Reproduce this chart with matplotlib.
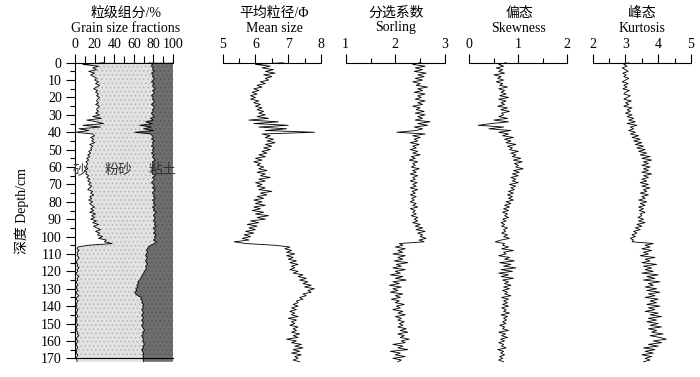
import numpy as np
import matplotlib
matplotlib.use("Agg")
import matplotlib.pyplot as plt
from matplotlib.ticker import MultipleLocator

plt.rcParams['font.family'] = ['Liberation Serif', 'Noto Sans CJK SC', 'DejaVu Sans']
plt.rcParams['font.size'] = 10
plt.rcParams['hatch.linewidth'] = 0.6

# depth grid, cm
depth = np.arange(0, 173)

# grain size fractions, cumulative %
sand = [30, 8, 24, 18, 22, 14, 20, 16, 19, 22,
        20, 24, 21, 25, 22, 19, 23, 21, 24, 22,
        25, 23, 22, 24, 21, 25, 23, 22, 24, 21,
        25, 18, 27, 12, 22, 29, 8, 26, 4, 14,
        1, 18, 20, 16, 19, 17, 20, 15, 18, 16,
        17, 14, 16, 13, 15, 12, 14, 11, 13, 12,
        11, 13, 10, 12, 11, 14, 12, 15, 13, 16,
        14, 17, 15, 13, 18, 16, 19, 15, 17, 14,
        18, 15, 17, 20, 16, 19, 15, 21, 17, 20,
        16, 22, 18, 24, 19, 22, 26, 21, 25, 23,
        28, 24, 32, 30, 38, 13, 3, 2, 4, 2,
        3, 2, 4, 3, 2, 1, 3, 2, 4, 2,
        3, 1, 2, 4, 2, 3, 1, 2, 3, 1,
        2, 3, 1, 2, 4, 2, 1, 3, 2, 1,
        2, 1, 3, 2, 1, 2, 3, 1, 2, 1,
        2, 3, 1, 2, 1, 3, 2, 4, 2, 1,
        3, 2, 1, 2, 3, 1, 2, 1, 3, 2,
        1, 2, 2]
sand_silt = [76, 79, 78, 80, 79, 81, 78, 80, 79, 81,
             80, 78, 81, 79, 80, 82, 79, 81, 80, 78,
             80, 79, 81, 80, 78, 80, 81, 79, 80, 78,
             79, 81, 77, 80, 72, 79, 66, 78, 70, 80,
             61, 77, 79, 80, 78, 81, 79, 80, 78, 81,
             79, 80, 78, 81, 79, 80, 82, 79, 81, 80,
             79, 81, 80, 78, 80, 82, 79, 81, 80, 78,
             80, 81, 79, 82, 80, 79, 81, 80, 82, 79,
             81, 80, 82, 79, 81, 80, 83, 81, 80, 82,
             81, 80, 82, 81, 83, 80, 81, 82, 80, 83,
             81, 82, 80, 83, 81, 77, 75, 74, 73, 74,
             73, 72, 74, 73, 72, 73, 74, 72, 73, 72,
             71, 70, 69, 68, 67, 66, 64, 65, 63, 64,
             62, 63, 61, 62, 64, 68, 67, 69, 68, 70,
             69, 70, 68, 69, 70, 68, 69, 70, 68, 69,
             70, 68, 69, 70, 71, 69, 70, 68, 69, 70,
             69, 70, 71, 69, 70, 68, 69, 70, 69, 70,
             69, 70, 70]

mean_size = [6.85, 6.0, 6.45, 6.2, 6.55, 6.3, 6.6, 6.25, 6.5, 6.3,
             6.4, 6.15, 6.3, 6.05, 6.2, 5.95, 6.1, 5.9, 6.05, 5.85,
             6.0, 5.85, 6.1, 5.95, 6.15, 6.0, 6.2, 6.05, 6.25, 6.1,
             6.3, 6.05, 6.4, 5.8, 6.7, 5.95, 7.0, 6.1, 6.95, 6.3,
             7.8, 6.2, 6.45, 6.3, 6.55, 6.35, 6.6, 6.3, 6.5, 6.25,
             6.45, 6.2, 6.35, 6.1, 6.3, 6.0, 6.2, 5.95, 6.15, 6.05,
             6.25, 6.1, 6.35, 6.05, 6.3, 6.15, 6.45, 6.1, 6.3, 6.0,
             6.2, 6.05, 6.3, 6.1, 6.5, 6.15, 6.35, 6.05, 6.25, 5.95,
             6.2, 6.0, 6.3, 5.95, 6.15, 5.9, 6.25, 6.0, 6.4, 6.05,
             6.3, 5.85, 6.1, 5.75, 6.05, 5.8, 6.0, 5.7, 5.95, 5.65,
             5.85, 5.6, 5.8, 5.35, 5.7, 6.6, 7.05, 6.9, 7.1, 6.95,
             7.2, 6.95, 7.15, 7.0, 7.25, 7.05, 7.3, 7.1, 7.2, 7.05,
             7.3, 7.15, 7.45, 7.3, 7.55, 7.35, 7.6, 7.45, 7.7, 7.5,
             7.8, 7.6, 7.7, 7.45, 7.55, 7.35, 7.45, 7.25, 7.3, 7.15,
             7.3, 7.1, 7.25, 7.05, 7.2, 7.1, 7.3, 7.0, 7.25, 7.1,
             7.2, 7.05, 7.3, 7.15, 7.25, 7.1, 7.35, 7.15, 7.3, 6.95,
             7.25, 7.1, 7.4, 7.2, 7.45, 7.15, 7.35, 7.1, 7.4, 7.2,
             7.3, 7.15, 7.35]

sorting = [2.5, 2.35, 2.6, 2.4, 2.55, 2.38, 2.62, 2.45, 2.58, 2.4,
           2.55, 2.35, 2.5, 2.42, 2.65, 2.45, 2.55, 2.38, 2.6, 2.45,
           2.52, 2.4, 2.6, 2.45, 2.55, 2.35, 2.5, 2.42, 2.58, 2.4,
           2.6, 2.45, 2.55, 2.4, 2.7, 2.45, 2.65, 2.38, 2.55, 2.42,
           2.03, 2.6, 2.35, 2.5, 2.38, 2.45, 2.3, 2.48, 2.35, 2.42,
           2.3, 2.45, 2.35, 2.5, 2.32, 2.4, 2.28, 2.45, 2.35, 2.4,
           2.32, 2.48, 2.35, 2.42, 2.3, 2.45, 2.35, 2.4, 2.3, 2.44,
           2.35, 2.42, 2.3, 2.45, 2.34, 2.4, 2.3, 2.42, 2.33, 2.38,
           2.3, 2.42, 2.35, 2.45, 2.3, 2.4, 2.35, 2.42, 2.32, 2.45,
           2.38, 2.45, 2.35, 2.5, 2.4, 2.55, 2.42, 2.6, 2.45, 2.55,
           2.5, 2.62, 2.48, 2.58, 2.08, 2.15, 2.0, 2.2, 2.05, 2.15,
           1.95, 2.2, 2.05, 2.15, 1.98, 2.25, 2.02, 2.12, 1.95, 2.2,
           2.0, 2.1, 1.9, 2.15, 2.0, 2.22, 1.95, 2.08, 1.88, 2.12,
           1.95, 2.05, 1.9, 2.15, 2.0, 2.1, 1.92, 2.08, 2.0, 2.18,
           2.02, 2.1, 1.95, 2.15, 2.05, 2.2, 2.0, 2.12, 2.05, 2.18,
           2.08, 2.15, 2.05, 2.22, 2.1, 2.25, 2.05, 2.18, 2.1, 2.28,
           2.12, 2.2, 1.95, 2.15, 2.05, 2.25, 1.9, 2.1, 2.0, 2.2,
           1.95, 2.12, 2.05]

skewness = [0.75, 0.6, 0.7, 0.55, 0.68, 0.6, 0.72, 0.5, 0.65, 0.58,
            0.7, 0.55, 0.68, 0.62, 0.78, 0.6, 0.72, 0.65, 0.75, 0.62,
            0.8, 0.6, 0.75, 0.65, 0.72, 0.58, 0.78, 0.64, 0.82, 0.66,
            0.7, 0.6, 0.78, 0.5, 0.8, 0.45, 0.18, 0.7, 0.4, 0.85,
            0.6, 0.8, 0.68, 0.9, 0.72, 0.85, 0.75, 0.95, 0.78, 0.88,
            0.82, 1.0, 0.85, 0.95, 0.88, 1.05, 0.9, 1.08, 0.92, 1.0,
            0.95, 1.1, 0.9, 1.02, 0.88, 1.0, 0.85, 0.95, 0.88, 1.0,
            0.82, 0.95, 0.85, 0.92, 0.8, 0.9, 0.78, 0.88, 0.8, 0.9,
            0.75, 0.85, 0.72, 0.82, 0.7, 0.8, 0.68, 0.78, 0.72, 0.8,
            0.68, 0.75, 0.65, 0.72, 0.66, 0.78, 0.7, 0.74, 0.66, 0.78,
            0.7, 0.82, 0.65, 0.53, 0.72, 0.68, 0.8, 0.66, 0.9, 0.7,
            0.75, 0.6, 0.82, 0.72, 0.92, 0.62, 0.85, 0.7, 0.95, 0.65,
            0.88, 0.6, 0.8, 0.65, 0.9, 0.68, 0.8, 0.72, 0.85, 0.7,
            0.82, 0.68, 0.78, 0.72, 0.85, 0.66, 0.8, 0.7, 0.78, 0.68,
            0.8, 0.66, 0.75, 0.7, 0.82, 0.65, 0.78, 0.7, 0.76, 0.68,
            0.75, 0.62, 0.72, 0.68, 0.8, 0.6, 0.74, 0.66, 0.78, 0.64,
            0.72, 0.6, 0.7, 0.66, 0.75, 0.58, 0.7, 0.64, 0.72, 0.62,
            0.68, 0.6, 0.7]

kurtosis = [3.1, 2.95, 3.05, 2.9, 3.0, 3.08, 2.92, 3.02, 2.95, 3.1,
            3.0, 2.9, 3.08, 2.95, 3.05, 2.92, 3.12, 3.0, 2.95, 3.15,
            3.05, 2.95, 3.18, 3.0, 3.1, 2.95, 3.2, 3.05, 3.15, 3.0,
            3.2, 3.05, 3.25, 3.1, 3.3, 3.05, 3.35, 3.15, 3.25, 3.1,
            3.3, 3.15, 3.4, 3.2, 3.45, 3.25, 3.5, 3.3, 3.55, 3.35,
            3.6, 3.4, 3.65, 3.45, 3.75, 3.5, 3.8, 3.55, 3.7, 3.5,
            3.75, 3.55, 3.7, 3.5, 3.8, 3.55, 3.7, 3.5, 3.65, 3.45,
            3.7, 3.5, 3.75, 3.55, 3.65, 3.45, 3.7, 3.5, 3.6, 3.4,
            3.65, 3.45, 3.6, 3.4, 3.55, 3.42, 3.6, 3.45, 3.5, 3.38,
            3.55, 3.4, 3.6, 3.35, 3.5, 3.3, 3.45, 3.25, 3.35, 3.2,
            3.3, 3.15, 3.25, 3.2, 3.85, 3.6, 3.75, 3.5, 3.8, 3.55,
            3.7, 3.45, 3.9, 3.6, 3.75, 3.5, 3.95, 3.55, 3.8, 3.6,
            3.85, 3.5, 4.0, 3.65, 3.9, 3.55, 4.05, 3.7, 3.85, 3.6,
            3.95, 3.65, 4.05, 3.7, 3.9, 3.6, 4.0, 3.75, 3.95, 3.65,
            4.05, 3.7, 3.9, 3.6, 4.0, 3.75, 4.1, 3.7, 3.95, 3.65,
            4.0, 3.75, 4.1, 3.7, 3.95, 3.8, 4.15, 3.75, 4.05, 4.25,
            3.85, 4.1, 3.7, 4.0, 3.55, 3.9, 3.6, 3.85, 3.5, 3.8,
            3.6, 3.75, 3.55]

W, H = 700, 377
fig = plt.figure(figsize=(7, 3.77), dpi=100)
y_top, y_bot = 62.7, 358.3
bot = 1 - y_bot / H
hgt = (y_bot - y_top) / H


def px_axes(x0, x1):
    return fig.add_axes([x0 / W, bot, (x1 - x0) / W, hgt])


def top_axis(ax, lo, hi, major, minor):
    ax.set_xlim(lo, hi)
    ax.set_ylim(170, 0)
    ax.xaxis.tick_top()
    ax.xaxis.set_major_locator(MultipleLocator(major))
    ax.xaxis.set_minor_locator(MultipleLocator(minor))
    ax.tick_params(axis='x', which='major', length=6.5, width=0.8, pad=2, labelsize=10)
    ax.tick_params(axis='x', which='minor', length=3.5, width=0.8)
    ax.set_facecolor('none')


# grain size panel
ax0 = px_axes(75, 173)
top_axis(ax0, 0, 100, 20, 10)
ax0.tick_params(axis='x', which='minor', length=5)
ax0.fill_betweenx(depth, 0, sand, facecolor='white', lw=0, clip_on=False)
ax0.fill_betweenx(depth, sand, sand_silt, facecolor='#e2e2e2', hatch='....',
                  edgecolor='#b4b4b4', lw=0, clip_on=False)
ax0.fill_betweenx(depth, sand_silt, 100, facecolor='#6e6e6e', hatch='....',
                  edgecolor='#575757', lw=0, clip_on=False)
ax0.plot(sand, depth, color='k', lw=0.6, clip_on=False)
ax0.plot(sand_silt, depth, color='k', lw=0.6, clip_on=False)
ax0.yaxis.set_major_locator(MultipleLocator(10))
ax0.yaxis.set_minor_locator(MultipleLocator(5))
ax0.tick_params(axis='y', which='major', length=6.5, width=0.8, pad=3, labelsize=10)
ax0.tick_params(axis='y', which='minor', length=3.5, width=0.8)
ax0.spines['right'].set_visible(False)
for s in ['left', 'top', 'bottom']:
    ax0.spines[s].set_linewidth(0.8)
ax0.text(5, 62, '砂', fontsize=10, color='#333333', ha='center', va='center')
ax0.text(44, 62, '粉砂', fontsize=10, color='#333333', ha='center', va='center')
ax0.text(89, 62, '粘土', fontsize=10, color='#333333', ha='center', va='center')

# line panels
panels = [
    (mean_size, 222.7, 321.0, 5, 8, 1, 0.5),
    (sorting, 345.7, 445.0, 1, 3, 1, 0.5),
    (skewness, 469.3, 567.3, 0, 2, 1, 0.5),
    (kurtosis, 592.7, 691.0, 2, 5, 1, 0.5),
]
for vals, x0, x1, lo, hi, mj, mn in panels:
    ax = px_axes(x0, x1)
    top_axis(ax, lo, hi, mj, mn)
    ax.plot(vals, depth, color='k', lw=0.6, clip_on=False)
    for s in ['left', 'right', 'bottom']:
        ax.spines[s].set_visible(False)
    ax.spines['top'].set_linewidth(0.8)
    ax.set_yticks([])

titles = [
    (126, '粒级组分/%', 'Grain size fractions'),
    (274, '平均粒径/Φ', 'Mean size'),
    (396, '分选系数', 'Sorling'),
    (519, '偏态', 'Skewness'),
    (642, '峰态', 'Kurtosis'),
]
for xc, zh, en in titles:
    fig.text(xc / W, 1 - 13 / H, zh, ha='center', va='center', fontsize=10)
    fig.text(xc / W, 1 - 28 / H, en, ha='center', va='center', fontsize=10)

fig.text(22 / W, 1 - 211 / H, '深度 Depth/cm', rotation=90, ha='center', va='center', fontsize=10)

fig.savefig('out.png', dpi=100)
